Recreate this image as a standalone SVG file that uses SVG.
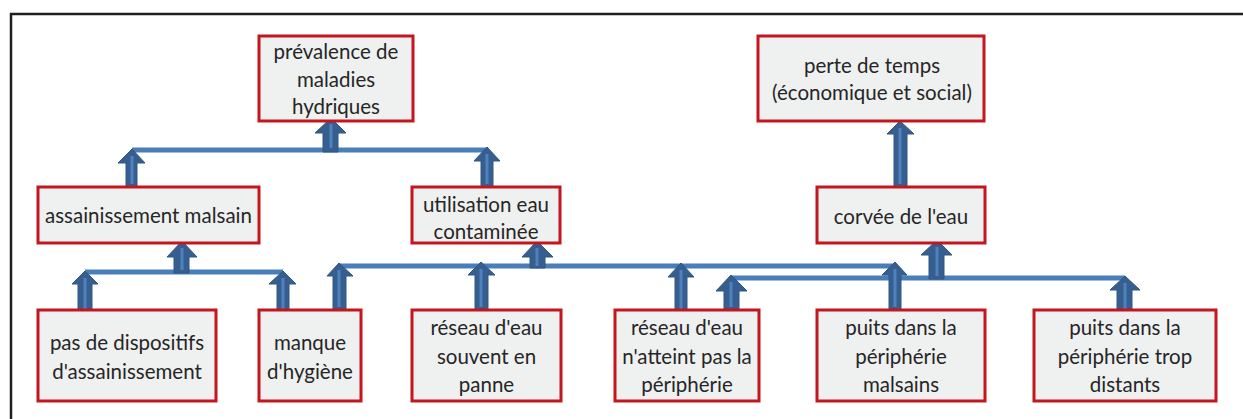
<svg xmlns="http://www.w3.org/2000/svg" width="1243" height="419" viewBox="0 0 1243 419">
  <style>
    .box { fill: #eff0f0; stroke: #c3161e; stroke-width: 3; }
    .lbl { font-family: Lato, "Liberation Sans", sans-serif; font-size: 20.5px; fill: #262626; text-anchor: middle; }
    .bar { stroke: #4a7ebb; stroke-width: 5; fill: none; }
    .arw { fill: #365f8f; stroke: #2f5785; stroke-width: 1; }
    .stripe { stroke: #4f81bd; stroke-width: 3; }
  </style>

  <!-- frame -->
  <path d="M11,419 V14 H1243" fill="none" stroke="#231f20" stroke-width="2.5"/>

  <!-- connectors: horizontal bars and block up-arrows -->
  <g id="connectors">
    <line class="bar" x1="132" y1="150" x2="487" y2="150"/>
    <line class="bar" x1="85" y1="272" x2="283" y2="272"/>
    <line class="bar" x1="339" y1="266" x2="895" y2="266"/>
    <line class="bar" x1="731" y1="278" x2="1125" y2="278"/>

    <!-- to prévalence de maladies hydriques -->
    <path class="arw" d="M331,118 L346,133 L338,133 L338,152 L323,152 L323,133 L315,133 Z"/>
    <line class="stripe" x1="331" y1="124" x2="331" y2="148"/>
    <!-- assainissement malsain -> bar -->
    <path class="arw" d="M132,149 L145,163 L137,163 L137,187 L126,187 L126,163 L118,163 Z"/>
    <line class="stripe" x1="132" y1="156" x2="132" y2="184"/>
    <!-- utilisation eau contaminée -> bar -->
    <path class="arw" d="M487,147 L500,161 L493,161 L493,187 L481,187 L481,161 L474,161 Z"/>
    <line class="stripe" x1="487" y1="154" x2="487" y2="184"/>
    <!-- to perte de temps -->
    <path class="arw" d="M900,121 L914,134 L907,134 L907,187 L894,187 L894,134 L887,134 Z"/>
    <line class="stripe" x1="900" y1="128" x2="900" y2="184"/>

    <!-- to assainissement malsain -->
    <path class="arw" d="M182,241 L197,257 L189,257 L189,273 L174,273 L174,257 L167,257 Z"/>
    <line class="stripe" x1="182" y1="248" x2="182" y2="270"/>
    <!-- pas de dispositifs -> bar -->
    <path class="arw" d="M85,271 L98,284 L92,284 L92,312 L78,312 L78,284 L72,284 Z"/>
    <line class="stripe" x1="85" y1="278" x2="85" y2="309"/>
    <!-- manque d'hygiène -> bar -->
    <path class="arw" d="M283,271 L296,284 L289,284 L289,312 L277,312 L277,284 L269,284 Z"/>
    <line class="stripe" x1="283" y1="278" x2="283" y2="309"/>
    <!-- manque d'hygiène -> long bar -->
    <path class="arw" d="M339,263 L353,276 L346,276 L346,310 L333,310 L333,276 L327,276 Z"/>
    <line class="stripe" x1="339" y1="270" x2="339" y2="307"/>

    <!-- to utilisation eau contaminée -->
    <path class="arw" d="M537,241 L553,257 L545,257 L545,268 L530,268 L530,257 L522,257 Z"/>
    <line class="stripe" x1="537" y1="248" x2="537" y2="266"/>
    <!-- réseau d'eau souvent en panne -> bar -->
    <path class="arw" d="M481,262 L495,275 L488,275 L488,310 L475,310 L475,275 L468,275 Z"/>
    <line class="stripe" x1="481" y1="269" x2="481" y2="307"/>
    <!-- réseau d'eau n'atteint pas la périphérie -> long bar -->
    <path class="arw" d="M681,263 L694,277 L687,277 L687,312 L675,312 L675,277 L668,277 Z"/>
    <line class="stripe" x1="681" y1="270" x2="681" y2="309"/>
    <!-- réseau d'eau n'atteint pas la périphérie -> lower bar -->
    <path class="arw" d="M731,275 L747,291 L739,291 L739,310 L724,310 L724,291 L716,291 Z"/>
    <line class="stripe" x1="731" y1="282" x2="731" y2="307"/>
    <!-- puits malsains -> bars -->
    <path class="arw" d="M895,262 L907,275 L901,275 L901,310 L889,310 L889,275 L882,275 Z"/>
    <line class="stripe" x1="895" y1="269" x2="895" y2="307"/>
    <!-- to corvée de l'eau -->
    <path class="arw" d="M937,240 L952,255 L944,255 L944,279 L929,279 L929,255 L921,255 Z"/>
    <line class="stripe" x1="937" y1="247" x2="937" y2="276"/>
    <!-- puits trop distants -> lower bar -->
    <path class="arw" d="M1125,276 L1140,290 L1132,290 L1132,312 L1117,312 L1117,290 L1110,290 Z"/>
    <line class="stripe" x1="1125" y1="283" x2="1125" y2="309"/>
  </g>

  <!-- top row -->
  <g id="prevalence">
    <rect class="box" x="259" y="36" width="154" height="85"/>
    <text class="lbl" x="336" y="59">prévalence de</text>
    <text class="lbl" x="336" y="87">maladies</text>
    <text class="lbl" x="336" y="114">hydriques</text>
  </g>
  <g id="perte">
    <rect class="box" x="758" y="36" width="226" height="85"/>
    <text class="lbl" x="872" y="73">perte de temps</text>
    <text class="lbl" x="872" y="100">(économique et social)</text>
  </g>

  <!-- middle row -->
  <g id="assainissement">
    <rect class="box" x="38" y="187" width="221" height="56"/>
    <text class="lbl" x="148.5" y="223">assainissement malsain</text>
  </g>
  <g id="utilisation">
    <rect class="box" x="412" y="187" width="148" height="56"/>
    <text class="lbl" x="486" y="212">utilisation eau</text>
    <text class="lbl" x="486" y="239">contaminée</text>
  </g>
  <g id="corvee">
    <rect class="box" x="817" y="187" width="168" height="56"/>
    <text class="lbl" x="901" y="224">corvée de l'eau</text>
  </g>

  <!-- bottom row -->
  <g id="dispositifs">
    <rect class="box" x="38" y="310" width="178" height="91"/>
    <text class="lbl" x="127" y="350">pas de dispositifs</text>
    <text class="lbl" x="127" y="379">d'assainissement</text>
  </g>
  <g id="hygiene">
    <rect class="box" x="259" y="310" width="102" height="91"/>
    <text class="lbl" x="310" y="350">manque</text>
    <text class="lbl" x="310" y="379">d'hygiène</text>
  </g>
  <g id="panne">
    <rect class="box" x="412" y="310" width="149" height="91"/>
    <text class="lbl" x="486.5" y="335">réseau d'eau</text>
    <text class="lbl" x="486.5" y="364">souvent en</text>
    <text class="lbl" x="486.5" y="392">panne</text>
  </g>
  <g id="peripherie">
    <rect class="box" x="615" y="310" width="144" height="91"/>
    <text class="lbl" x="687" y="335">réseau d'eau</text>
    <text class="lbl" x="687" y="364">n'atteint pas la</text>
    <text class="lbl" x="687" y="392">périphérie</text>
  </g>
  <g id="puits-malsains">
    <rect class="box" x="817" y="310" width="168" height="91"/>
    <text class="lbl" x="901" y="335">puits dans la</text>
    <text class="lbl" x="901" y="364">périphérie</text>
    <text class="lbl" x="901" y="392">malsains</text>
  </g>
  <g id="puits-distants">
    <rect class="box" x="1034" y="310" width="182" height="91"/>
    <text class="lbl" x="1125" y="335">puits dans la</text>
    <text class="lbl" x="1125" y="364">périphérie trop</text>
    <text class="lbl" x="1125" y="392">distants</text>
  </g>
</svg>
